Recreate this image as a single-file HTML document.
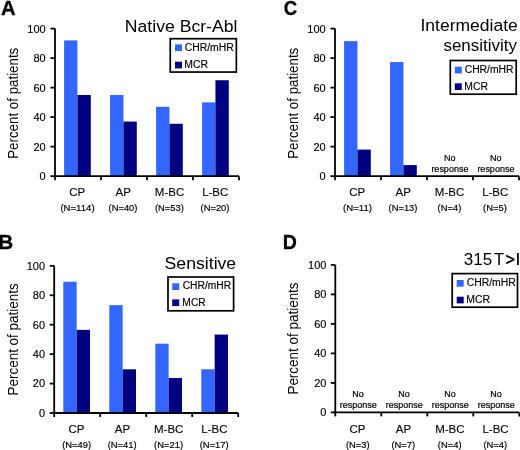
<!DOCTYPE html>
<html><head><meta charset="utf-8"><style>
html,body{margin:0;padding:0;background:#fff;width:520px;height:450px;overflow:hidden}
svg{display:block;font-family:"Liberation Sans", sans-serif;will-change:transform}
</style></head><body>
<svg width="520" height="450" viewBox="0 0 520 450">

<rect x="64.10" y="40.40" width="13.35" height="135.75" fill="#3366ff"/>
<rect x="77.45" y="95.00" width="13.35" height="81.15" fill="#000080"/>
<rect x="110.10" y="95.00" width="13.35" height="81.15" fill="#3366ff"/>
<rect x="123.45" y="121.56" width="13.35" height="54.59" fill="#000080"/>
<rect x="156.10" y="106.80" width="13.35" height="69.35" fill="#3366ff"/>
<rect x="169.45" y="123.77" width="13.35" height="52.38" fill="#000080"/>
<rect x="202.10" y="102.38" width="13.35" height="73.78" fill="#3366ff"/>
<rect x="215.45" y="80.24" width="13.35" height="95.91" fill="#000080"/>
<path d="M55.00 28.60 V176.15 H239.00" fill="none" stroke="#000" stroke-width="1.8"/>
<path d="M50.50 176.15 H55.00" stroke="#000" stroke-width="1.8"/>
<path d="M50.50 146.64 H55.00" stroke="#000" stroke-width="1.8"/>
<path d="M50.50 117.13 H55.00" stroke="#000" stroke-width="1.8"/>
<path d="M50.50 87.62 H55.00" stroke="#000" stroke-width="1.8"/>
<path d="M50.50 58.11 H55.00" stroke="#000" stroke-width="1.8"/>
<path d="M50.50 28.60 H55.00" stroke="#000" stroke-width="1.8"/>
<path d="M55.00 176.15 V180.15" stroke="#000" stroke-width="1.8"/>
<path d="M101.00 176.15 V180.15" stroke="#000" stroke-width="1.8"/>
<path d="M147.00 176.15 V180.15" stroke="#000" stroke-width="1.8"/>
<path d="M193.00 176.15 V180.15" stroke="#000" stroke-width="1.8"/>
<path d="M239.00 176.15 V180.15" stroke="#000" stroke-width="1.8"/>
<text x="39.60" y="180.05" font-size="10.5" stroke="#000" stroke-width="0.14" textLength="6.13" lengthAdjust="spacingAndGlyphs" fill="#000">0</text>
<text x="33.47" y="150.54" font-size="10.5" stroke="#000" stroke-width="0.14" textLength="12.26" lengthAdjust="spacingAndGlyphs" fill="#000">20</text>
<text x="33.47" y="121.03" font-size="10.5" stroke="#000" stroke-width="0.14" textLength="12.26" lengthAdjust="spacingAndGlyphs" fill="#000">40</text>
<text x="33.47" y="91.52" font-size="10.5" stroke="#000" stroke-width="0.14" textLength="12.26" lengthAdjust="spacingAndGlyphs" fill="#000">60</text>
<text x="33.47" y="62.01" font-size="10.5" stroke="#000" stroke-width="0.14" textLength="12.26" lengthAdjust="spacingAndGlyphs" fill="#000">80</text>
<text x="27.34" y="32.50" font-size="10.5" stroke="#000" stroke-width="0.14" textLength="18.39" lengthAdjust="spacingAndGlyphs" fill="#000">100</text>
<text transform="translate(18.20 157.70) rotate(-90)" x="-1.09" y="0" font-size="14" textLength="111.07" lengthAdjust="spacingAndGlyphs">Percent of patients</text>
<text x="69.23" y="196.30" font-size="11" stroke="#000" stroke-width="0.12" textLength="15.97" lengthAdjust="spacingAndGlyphs" fill="#000">CP</text>
<text x="60.40" y="211.20" font-size="9.3" stroke="#000" stroke-width="0.188" textLength="34.20" lengthAdjust="spacingAndGlyphs" fill="#000">(N=114)</text>
<text x="115.52" y="196.30" font-size="11" stroke="#000" stroke-width="0.12" textLength="15.33" lengthAdjust="spacingAndGlyphs" fill="#000">AP</text>
<text x="108.51" y="211.20" font-size="9.3" stroke="#000" stroke-width="0.188" textLength="28.97" lengthAdjust="spacingAndGlyphs" fill="#000">(N=40)</text>
<text x="154.86" y="196.30" font-size="11" stroke="#000" stroke-width="0.12" textLength="29.37" lengthAdjust="spacingAndGlyphs" fill="#000">M-BC</text>
<text x="154.91" y="211.20" font-size="9.3" stroke="#000" stroke-width="0.188" textLength="28.97" lengthAdjust="spacingAndGlyphs" fill="#000">(N=53)</text>
<text x="202.15" y="196.30" font-size="11" stroke="#000" stroke-width="0.12" textLength="26.19" lengthAdjust="spacingAndGlyphs" fill="#000">L-BC</text>
<text x="200.51" y="211.20" font-size="9.3" stroke="#000" stroke-width="0.188" textLength="28.97" lengthAdjust="spacingAndGlyphs" fill="#000">(N=20)</text>
<rect x="170.25" y="38.70" width="66.10" height="33.35" fill="none" stroke="#000" stroke-width="1.7"/>
<rect x="175.00" y="44.40" width="7.00" height="6.70" fill="#3366ff"/>
<rect x="175.00" y="61.70" width="7.00" height="6.70" fill="#000080"/>
<text x="184.67" y="50.90" font-size="10.0" stroke="#000" stroke-width="0.16" textLength="49.11" lengthAdjust="spacingAndGlyphs" fill="#000">CHR/mHR</text>
<text x="184.35" y="67.70" font-size="10.0" stroke="#000" stroke-width="0.16" textLength="23.69" lengthAdjust="spacingAndGlyphs" fill="#000">MCR</text>
<text x="124.85" y="31.50" font-size="16.8" textLength="112.57" lengthAdjust="spacingAndGlyphs" fill="#000">Native Bcr-Abl</text>
<text x="1.00" y="15.30" font-size="20.5" font-weight="bold" stroke="#000" stroke-width="0.35" textLength="14.64" lengthAdjust="spacingAndGlyphs" fill="#000">A</text>
<rect x="63.30" y="281.74" width="13.35" height="131.26" fill="#3366ff"/>
<rect x="76.65" y="329.86" width="13.35" height="83.14" fill="#000080"/>
<rect x="109.30" y="305.14" width="13.35" height="107.86" fill="#3366ff"/>
<rect x="122.65" y="369.30" width="13.35" height="43.70" fill="#000080"/>
<rect x="155.30" y="343.69" width="13.35" height="69.31" fill="#3366ff"/>
<rect x="168.65" y="377.98" width="13.35" height="35.02" fill="#000080"/>
<rect x="201.30" y="369.30" width="13.35" height="43.70" fill="#3366ff"/>
<rect x="214.65" y="334.57" width="13.35" height="78.43" fill="#000080"/>
<path d="M54.20 265.85 V413.00 H238.20" fill="none" stroke="#000" stroke-width="1.8"/>
<path d="M49.70 413.00 H54.20" stroke="#000" stroke-width="1.8"/>
<path d="M49.70 383.57 H54.20" stroke="#000" stroke-width="1.8"/>
<path d="M49.70 354.14 H54.20" stroke="#000" stroke-width="1.8"/>
<path d="M49.70 324.71 H54.20" stroke="#000" stroke-width="1.8"/>
<path d="M49.70 295.28 H54.20" stroke="#000" stroke-width="1.8"/>
<path d="M49.70 265.85 H54.20" stroke="#000" stroke-width="1.8"/>
<path d="M54.20 413.00 V417.00" stroke="#000" stroke-width="1.8"/>
<path d="M100.20 413.00 V417.00" stroke="#000" stroke-width="1.8"/>
<path d="M146.20 413.00 V417.00" stroke="#000" stroke-width="1.8"/>
<path d="M192.20 413.00 V417.00" stroke="#000" stroke-width="1.8"/>
<path d="M238.20 413.00 V417.00" stroke="#000" stroke-width="1.8"/>
<text x="39.00" y="416.90" font-size="10.5" stroke="#000" stroke-width="0.14" textLength="6.13" lengthAdjust="spacingAndGlyphs" fill="#000">0</text>
<text x="32.87" y="387.47" font-size="10.5" stroke="#000" stroke-width="0.14" textLength="12.26" lengthAdjust="spacingAndGlyphs" fill="#000">20</text>
<text x="32.87" y="358.04" font-size="10.5" stroke="#000" stroke-width="0.14" textLength="12.26" lengthAdjust="spacingAndGlyphs" fill="#000">40</text>
<text x="32.87" y="328.61" font-size="10.5" stroke="#000" stroke-width="0.14" textLength="12.26" lengthAdjust="spacingAndGlyphs" fill="#000">60</text>
<text x="32.87" y="299.18" font-size="10.5" stroke="#000" stroke-width="0.14" textLength="12.26" lengthAdjust="spacingAndGlyphs" fill="#000">80</text>
<text x="26.74" y="269.75" font-size="10.5" stroke="#000" stroke-width="0.14" textLength="18.39" lengthAdjust="spacingAndGlyphs" fill="#000">100</text>
<text transform="translate(17.60 394.40) rotate(-90)" x="-1.10" y="0" font-size="14" textLength="112.19" lengthAdjust="spacingAndGlyphs">Percent of patients</text>
<text x="68.43" y="433.30" font-size="11" stroke="#000" stroke-width="0.12" textLength="15.97" lengthAdjust="spacingAndGlyphs" fill="#000">CP</text>
<text x="62.21" y="448.30" font-size="9.3" stroke="#000" stroke-width="0.188" textLength="28.97" lengthAdjust="spacingAndGlyphs" fill="#000">(N=49)</text>
<text x="114.72" y="433.30" font-size="11" stroke="#000" stroke-width="0.12" textLength="15.33" lengthAdjust="spacingAndGlyphs" fill="#000">AP</text>
<text x="107.71" y="448.30" font-size="9.3" stroke="#000" stroke-width="0.188" textLength="28.97" lengthAdjust="spacingAndGlyphs" fill="#000">(N=41)</text>
<text x="154.06" y="433.30" font-size="11" stroke="#000" stroke-width="0.12" textLength="29.37" lengthAdjust="spacingAndGlyphs" fill="#000">M-BC</text>
<text x="154.11" y="448.30" font-size="9.3" stroke="#000" stroke-width="0.188" textLength="28.97" lengthAdjust="spacingAndGlyphs" fill="#000">(N=21)</text>
<text x="201.35" y="433.30" font-size="11" stroke="#000" stroke-width="0.12" textLength="26.19" lengthAdjust="spacingAndGlyphs" fill="#000">L-BC</text>
<text x="199.71" y="448.30" font-size="9.3" stroke="#000" stroke-width="0.188" textLength="28.97" lengthAdjust="spacingAndGlyphs" fill="#000">(N=17)</text>
<rect x="168.00" y="277.00" width="65.60" height="33.80" fill="none" stroke="#000" stroke-width="1.7"/>
<rect x="172.20" y="283.30" width="7.00" height="6.70" fill="#3366ff"/>
<rect x="172.20" y="299.40" width="7.00" height="6.70" fill="#000080"/>
<text x="182.68" y="289.40" font-size="10.0" stroke="#000" stroke-width="0.16" textLength="48.40" lengthAdjust="spacingAndGlyphs" fill="#000">CHR/mHR</text>
<text x="182.36" y="306.10" font-size="10.0" stroke="#000" stroke-width="0.16" textLength="23.34" lengthAdjust="spacingAndGlyphs" fill="#000">MCR</text>
<text x="164.60" y="268.80" font-size="16.8" textLength="71.59" lengthAdjust="spacingAndGlyphs" fill="#000">Sensitive</text>
<text x="-1.68" y="249.30" font-size="20.5" font-weight="bold" stroke="#000" stroke-width="0.35" textLength="14.92" lengthAdjust="spacingAndGlyphs" fill="#000">B</text>
<rect x="344.10" y="41.14" width="13.35" height="135.01" fill="#3366ff"/>
<rect x="357.45" y="149.59" width="13.35" height="26.56" fill="#000080"/>
<rect x="390.10" y="62.09" width="13.35" height="114.06" fill="#3366ff"/>
<rect x="403.45" y="165.08" width="13.35" height="11.07" fill="#000080"/>
<path d="M335.00 28.60 V176.15 H519.00" fill="none" stroke="#000" stroke-width="1.8"/>
<path d="M330.50 176.15 H335.00" stroke="#000" stroke-width="1.8"/>
<path d="M330.50 146.64 H335.00" stroke="#000" stroke-width="1.8"/>
<path d="M330.50 117.13 H335.00" stroke="#000" stroke-width="1.8"/>
<path d="M330.50 87.62 H335.00" stroke="#000" stroke-width="1.8"/>
<path d="M330.50 58.11 H335.00" stroke="#000" stroke-width="1.8"/>
<path d="M330.50 28.60 H335.00" stroke="#000" stroke-width="1.8"/>
<path d="M335.00 176.15 V180.15" stroke="#000" stroke-width="1.8"/>
<path d="M381.00 176.15 V180.15" stroke="#000" stroke-width="1.8"/>
<path d="M427.00 176.15 V180.15" stroke="#000" stroke-width="1.8"/>
<path d="M473.00 176.15 V180.15" stroke="#000" stroke-width="1.8"/>
<path d="M519.00 176.15 V180.15" stroke="#000" stroke-width="1.8"/>
<text x="319.60" y="180.05" font-size="10.5" stroke="#000" stroke-width="0.14" textLength="6.13" lengthAdjust="spacingAndGlyphs" fill="#000">0</text>
<text x="313.47" y="150.54" font-size="10.5" stroke="#000" stroke-width="0.14" textLength="12.26" lengthAdjust="spacingAndGlyphs" fill="#000">20</text>
<text x="313.47" y="121.03" font-size="10.5" stroke="#000" stroke-width="0.14" textLength="12.26" lengthAdjust="spacingAndGlyphs" fill="#000">40</text>
<text x="313.47" y="91.52" font-size="10.5" stroke="#000" stroke-width="0.14" textLength="12.26" lengthAdjust="spacingAndGlyphs" fill="#000">60</text>
<text x="313.47" y="62.01" font-size="10.5" stroke="#000" stroke-width="0.14" textLength="12.26" lengthAdjust="spacingAndGlyphs" fill="#000">80</text>
<text x="307.34" y="32.50" font-size="10.5" stroke="#000" stroke-width="0.14" textLength="18.39" lengthAdjust="spacingAndGlyphs" fill="#000">100</text>
<text transform="translate(298.20 157.70) rotate(-90)" x="-1.09" y="0" font-size="14" textLength="111.07" lengthAdjust="spacingAndGlyphs">Percent of patients</text>
<text x="349.23" y="196.30" font-size="11" stroke="#000" stroke-width="0.12" textLength="15.97" lengthAdjust="spacingAndGlyphs" fill="#000">CP</text>
<text x="343.01" y="211.20" font-size="9.3" stroke="#000" stroke-width="0.188" textLength="28.97" lengthAdjust="spacingAndGlyphs" fill="#000">(N=11)</text>
<text x="395.52" y="196.30" font-size="11" stroke="#000" stroke-width="0.12" textLength="15.33" lengthAdjust="spacingAndGlyphs" fill="#000">AP</text>
<text x="388.51" y="211.20" font-size="9.3" stroke="#000" stroke-width="0.188" textLength="28.97" lengthAdjust="spacingAndGlyphs" fill="#000">(N=13)</text>
<text x="434.86" y="196.30" font-size="11" stroke="#000" stroke-width="0.12" textLength="29.37" lengthAdjust="spacingAndGlyphs" fill="#000">M-BC</text>
<text x="437.53" y="211.20" font-size="9.3" stroke="#000" stroke-width="0.188" textLength="23.75" lengthAdjust="spacingAndGlyphs" fill="#000">(N=4)</text>
<text x="482.15" y="196.30" font-size="11" stroke="#000" stroke-width="0.12" textLength="26.19" lengthAdjust="spacingAndGlyphs" fill="#000">L-BC</text>
<text x="483.13" y="211.20" font-size="9.3" stroke="#000" stroke-width="0.188" textLength="23.75" lengthAdjust="spacingAndGlyphs" fill="#000">(N=5)</text>
<text x="444.07" y="161.20" font-size="9" stroke="#000" stroke-width="0.2" textLength="11.50" lengthAdjust="spacingAndGlyphs" fill="#000">No</text>
<text x="431.39" y="171.70" font-size="9" stroke="#000" stroke-width="0.2" textLength="37.02" lengthAdjust="spacingAndGlyphs" fill="#000">response</text>
<text x="490.07" y="161.20" font-size="9" stroke="#000" stroke-width="0.2" textLength="11.50" lengthAdjust="spacingAndGlyphs" fill="#000">No</text>
<text x="477.39" y="171.70" font-size="9" stroke="#000" stroke-width="0.2" textLength="37.02" lengthAdjust="spacingAndGlyphs" fill="#000">response</text>
<rect x="450.30" y="60.50" width="65.90" height="33.70" fill="none" stroke="#000" stroke-width="1.7"/>
<rect x="454.80" y="66.70" width="7.00" height="6.70" fill="#3366ff"/>
<rect x="454.80" y="83.30" width="7.00" height="6.70" fill="#000080"/>
<text x="464.67" y="72.90" font-size="10.0" stroke="#000" stroke-width="0.16" textLength="48.91" lengthAdjust="spacingAndGlyphs" fill="#000">CHR/mHR</text>
<text x="464.35" y="89.70" font-size="10.0" stroke="#000" stroke-width="0.16" textLength="23.59" lengthAdjust="spacingAndGlyphs" fill="#000">MCR</text>
<text x="420.48" y="31.20" font-size="16.8" textLength="97.29" lengthAdjust="spacingAndGlyphs" fill="#000">Intermediate</text>
<text x="443.43" y="51.00" font-size="16.8" textLength="73.61" lengthAdjust="spacingAndGlyphs" fill="#000">sensitivity</text>
<text x="283.74" y="15.20" font-size="20.5" font-weight="bold" stroke="#000" stroke-width="0.35" textLength="13.37" lengthAdjust="spacingAndGlyphs" fill="#000">C</text>
<path d="M335.30 264.90 V412.40 H519.30" fill="none" stroke="#000" stroke-width="1.8"/>
<path d="M330.80 412.40 H335.30" stroke="#000" stroke-width="1.8"/>
<path d="M330.80 382.90 H335.30" stroke="#000" stroke-width="1.8"/>
<path d="M330.80 353.40 H335.30" stroke="#000" stroke-width="1.8"/>
<path d="M330.80 323.90 H335.30" stroke="#000" stroke-width="1.8"/>
<path d="M330.80 294.40 H335.30" stroke="#000" stroke-width="1.8"/>
<path d="M330.80 264.90 H335.30" stroke="#000" stroke-width="1.8"/>
<path d="M335.30 412.40 V416.40" stroke="#000" stroke-width="1.8"/>
<path d="M381.30 412.40 V416.40" stroke="#000" stroke-width="1.8"/>
<path d="M427.30 412.40 V416.40" stroke="#000" stroke-width="1.8"/>
<path d="M473.30 412.40 V416.40" stroke="#000" stroke-width="1.8"/>
<path d="M519.30 412.40 V416.40" stroke="#000" stroke-width="1.8"/>
<text x="320.30" y="416.30" font-size="10.5" stroke="#000" stroke-width="0.14" textLength="6.13" lengthAdjust="spacingAndGlyphs" fill="#000">0</text>
<text x="314.17" y="386.80" font-size="10.5" stroke="#000" stroke-width="0.14" textLength="12.26" lengthAdjust="spacingAndGlyphs" fill="#000">20</text>
<text x="314.17" y="357.30" font-size="10.5" stroke="#000" stroke-width="0.14" textLength="12.26" lengthAdjust="spacingAndGlyphs" fill="#000">40</text>
<text x="314.17" y="327.80" font-size="10.5" stroke="#000" stroke-width="0.14" textLength="12.26" lengthAdjust="spacingAndGlyphs" fill="#000">60</text>
<text x="314.17" y="298.30" font-size="10.5" stroke="#000" stroke-width="0.14" textLength="12.26" lengthAdjust="spacingAndGlyphs" fill="#000">80</text>
<text x="308.04" y="268.80" font-size="10.5" stroke="#000" stroke-width="0.14" textLength="18.39" lengthAdjust="spacingAndGlyphs" fill="#000">100</text>
<text transform="translate(298.40 393.50) rotate(-90)" x="-1.10" y="0" font-size="14" textLength="112.19" lengthAdjust="spacingAndGlyphs">Percent of patients</text>
<text x="349.53" y="433.00" font-size="11" stroke="#000" stroke-width="0.12" textLength="15.97" lengthAdjust="spacingAndGlyphs" fill="#000">CP</text>
<text x="345.93" y="447.60" font-size="9.3" stroke="#000" stroke-width="0.188" textLength="23.75" lengthAdjust="spacingAndGlyphs" fill="#000">(N=3)</text>
<text x="395.82" y="433.00" font-size="11" stroke="#000" stroke-width="0.12" textLength="15.33" lengthAdjust="spacingAndGlyphs" fill="#000">AP</text>
<text x="391.43" y="447.60" font-size="9.3" stroke="#000" stroke-width="0.188" textLength="23.75" lengthAdjust="spacingAndGlyphs" fill="#000">(N=7)</text>
<text x="435.16" y="433.00" font-size="11" stroke="#000" stroke-width="0.12" textLength="29.37" lengthAdjust="spacingAndGlyphs" fill="#000">M-BC</text>
<text x="437.83" y="447.60" font-size="9.3" stroke="#000" stroke-width="0.188" textLength="23.75" lengthAdjust="spacingAndGlyphs" fill="#000">(N=4)</text>
<text x="482.45" y="433.00" font-size="11" stroke="#000" stroke-width="0.12" textLength="26.19" lengthAdjust="spacingAndGlyphs" fill="#000">L-BC</text>
<text x="483.43" y="447.60" font-size="9.3" stroke="#000" stroke-width="0.188" textLength="23.75" lengthAdjust="spacingAndGlyphs" fill="#000">(N=4)</text>
<text x="352.37" y="396.50" font-size="9" stroke="#000" stroke-width="0.2" textLength="11.50" lengthAdjust="spacingAndGlyphs" fill="#000">No</text>
<text x="339.69" y="407.50" font-size="9" stroke="#000" stroke-width="0.2" textLength="37.02" lengthAdjust="spacingAndGlyphs" fill="#000">response</text>
<text x="398.37" y="396.50" font-size="9" stroke="#000" stroke-width="0.2" textLength="11.50" lengthAdjust="spacingAndGlyphs" fill="#000">No</text>
<text x="385.69" y="407.50" font-size="9" stroke="#000" stroke-width="0.2" textLength="37.02" lengthAdjust="spacingAndGlyphs" fill="#000">response</text>
<text x="444.37" y="396.50" font-size="9" stroke="#000" stroke-width="0.2" textLength="11.50" lengthAdjust="spacingAndGlyphs" fill="#000">No</text>
<text x="431.69" y="407.50" font-size="9" stroke="#000" stroke-width="0.2" textLength="37.02" lengthAdjust="spacingAndGlyphs" fill="#000">response</text>
<text x="490.37" y="396.50" font-size="9" stroke="#000" stroke-width="0.2" textLength="11.50" lengthAdjust="spacingAndGlyphs" fill="#000">No</text>
<text x="477.69" y="407.50" font-size="9" stroke="#000" stroke-width="0.2" textLength="37.02" lengthAdjust="spacingAndGlyphs" fill="#000">response</text>
<rect x="452.20" y="273.60" width="65.30" height="33.60" fill="none" stroke="#000" stroke-width="1.7"/>
<rect x="456.70" y="280.00" width="7.00" height="6.70" fill="#3366ff"/>
<rect x="456.70" y="296.70" width="7.00" height="6.70" fill="#000080"/>
<text x="466.67" y="286.40" font-size="10.0" stroke="#000" stroke-width="0.16" textLength="49.11" lengthAdjust="spacingAndGlyphs" fill="#000">CHR/mHR</text>
<text x="466.35" y="302.90" font-size="10.0" stroke="#000" stroke-width="0.16" textLength="23.69" lengthAdjust="spacingAndGlyphs" fill="#000">MCR</text>
<text x="463.85" y="265.30" font-size="16.8" textLength="28.47" lengthAdjust="spacingAndGlyphs" fill="#000">315</text>
<text x="493.93" y="265.30" font-size="16.8" textLength="10.15" lengthAdjust="spacingAndGlyphs" fill="#000">T</text>
<text x="515.32" y="265.30" font-size="16.8" textLength="5.36" lengthAdjust="spacingAndGlyphs" fill="#000">I</text>
<text x="282.69" y="249.00" font-size="20.5" font-weight="bold" stroke="#000" stroke-width="0.35" textLength="14.13" lengthAdjust="spacingAndGlyphs" fill="#000">D</text>
<text x="505.73" y="265.30" font-size="16.8" stroke="#000" stroke-width="0.55" textLength="9.14" lengthAdjust="spacingAndGlyphs" fill="#000">&gt;</text>
</svg>
</body></html>
